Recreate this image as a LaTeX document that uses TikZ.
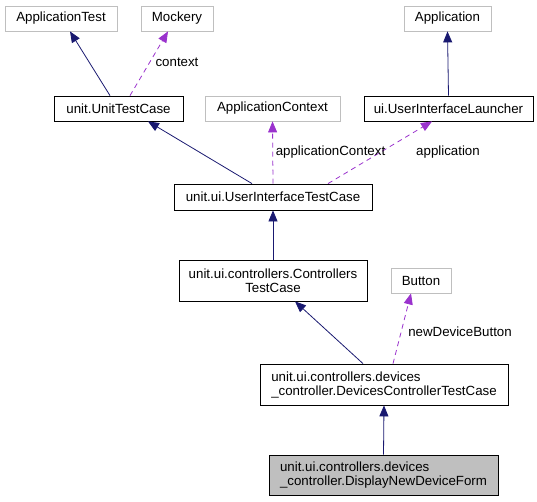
\documentclass[tikz,border=0pt]{standalone}
\usepackage{fontspec}
\setmainfont{Liberation Sans}
\usepackage{tikz}
\usetikzlibrary{shapes, arrows.meta, positioning}

\definecolor{edgeblue}{HTML}{191970}
\definecolor{edgepurple}{HTML}{9A32CD}
\definecolor{boxgray}{HTML}{BFBFBF}

\begin{document}
\begin{tikzpicture}[
  x=1pt, y=-1pt,
  font=\fontsize{13.3}{14}\selectfont,
  cls/.style={rectangle, draw=black, line width=.8pt, inner sep=0pt},
  ext/.style={rectangle, draw=boxgray, line width=.8pt, inner sep=0pt},
  inherit/.style={draw=edgeblue, line width=.8pt, -{Triangle[length=11pt, width=9pt]}},
  uses/.style={draw=edgepurple, line width=.8pt, dash pattern=on 5pt off 4pt, -{Triangle[length=11pt, width=9pt]}},
  lbl/.style={inner sep=0pt, anchor=center}]

  \useasboundingbox (0,0) rectangle (537,501);

  \node[ext, minimum width=112pt, minimum height=25pt](apptest) at (61,18.5){ApplicationTest};
  \node[ext, minimum width=72pt, minimum height=25pt](mock) at (177,18.5){Mockery};
  \node[ext, minimum width=87pt, minimum height=25pt](app) at (447.5,18.5){Application};
  \node[cls, minimum width=129pt, minimum height=25pt](utc) at (118.5,108.5){unit.UnitTestCase};
  \node[ext, minimum width=135pt, minimum height=25pt](actx) at (272.5,108.5){ApplicationContext};
  \node[cls, minimum width=169pt, minimum height=25pt](uil) at (448.5,108.5){ui.UserInterfaceLauncher};
  \node[cls, minimum width=198pt, minimum height=26pt](uitc) at (273,197){unit.ui.UserInterfaceTestCase};
  \node[cls, minimum width=188pt, minimum height=41pt, align=center](ctc) at (273,280.5){unit.ui.controllers.Controllers\\TestCase};
  \node[ext, minimum width=60pt, minimum height=25pt](btn) at (421,280.5){Button};
  \node[cls, minimum width=248pt, minimum height=41pt, align=left](dctc) at (384,384.5){unit.ui.controllers.devices\\\_controller.DevicesControllerTestCase};
  \node[cls, fill=boxgray, minimum width=229pt, minimum height=40pt, align=left](dndf) at (383.5,475){unit.ui.controllers.devices\\\_controller.DisplayNewDeviceForm};

  \draw[inherit] ([xshift=-8.5pt]utc.north) -- ([xshift=9pt]apptest.south);
  \draw[uses] ([xshift=11.5pt]utc.north) -- ([xshift=-9pt]mock.south);
  \draw[inherit] ([xshift=-21pt]uitc.north) -- ([xshift=29.5pt]utc.south);
  \draw[uses] (uitc.north) -- (actx.south);
  \draw[uses] ([xshift=55pt]uitc.north) -- ([xshift=-16.5pt]uil.south);
  \draw[inherit] (uil.north) -- (app.south);
  \draw[inherit] (ctc.north) -- (uitc.south);
  \draw[inherit] ([xshift=-21pt]dctc.north) -- ([xshift=22pt]ctc.south);
  \draw[uses] ([xshift=9pt]dctc.north) -- ([xshift=-10pt]btn.south);
  \draw[inherit] (dndf.north) -- (dctc.south);

  \node[lbl](lcontext) at (177,62){context};
  \node[lbl](lappctx) at (330.5,152){applicationContext};
  \node[lbl](lapp) at (448,152){application};
  \node[lbl](lbtn) at (460,332){newDeviceButton};
\end{tikzpicture}
\end{document}
